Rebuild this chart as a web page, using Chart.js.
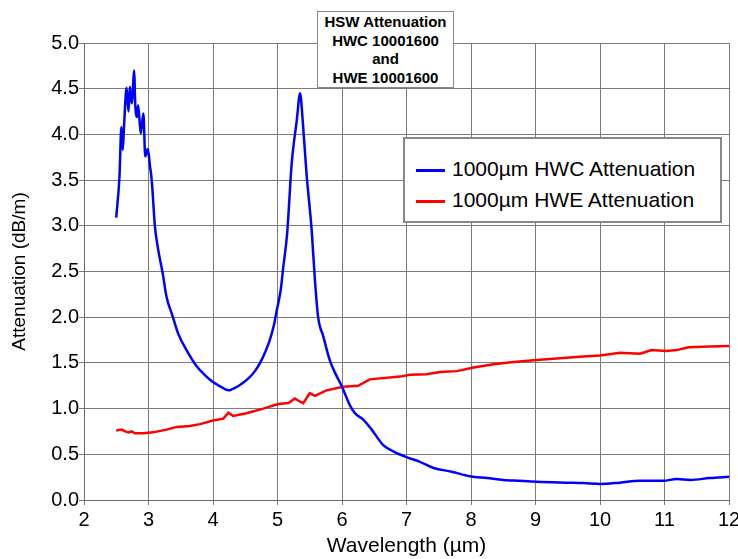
<!DOCTYPE html>
<html>
<head>
<meta charset="utf-8">
<script src="https://cdn.jsdelivr.net/npm/chart.js@4"></script>
<style>
  body { margin: 0; background: #fff; font-family: "Liberation Sans", Arial, sans-serif; }
  #wrap { position: relative; width: 738px; height: 559px; }
  #titleBox {
    position: absolute; left: 317px; top: 11px; width: 135px; height: 74px;
    background: #fff; border: 1px solid #8a8a8a;
    font: bold 15px "Liberation Sans", Arial, sans-serif; line-height: 18.5px;
    text-align: center; padding-top: 1px;
  }
  #legendBox {
    position: absolute; left: 403px; top: 137px; width: 315px; height: 82px;
    background: #fff; border: 2px solid #8a8a8a;
    font: 21px "Liberation Sans", Arial, sans-serif;
  }
  .row { position: absolute; left: 11px; height: 31px; line-height: 31px; white-space: nowrap; }
  .swatch { display: inline-block; width: 29px; height: 3px; vertical-align: middle; margin-right: 7px; }
</style>
</head>
<body>
<div id="wrap">
  <canvas id="attChart" width="738" height="559"></canvas>
  <div id="titleBox">HSW Attenuation<br>HWC 10001600<br>and<br>HWE 10001600</div>
  <div id="legendBox">
    <div class="row" style="top:14px"><span class="swatch" style="background:#0000ff"></span>1000µm HWC Attenuation</div>
    <div class="row" style="top:45px"><span class="swatch" style="background:#ff0000"></span>1000µm HWE Attenuation</div>
  </div>
</div>
<script>
let hwcWave = [2.50, 2.55, 2.58, 2.60, 2.62, 2.66, 2.69, 2.71, 2.74, 2.78,
    2.79, 2.82, 2.84, 2.88, 2.92, 2.95, 2.99, 3.02, 3.05, 3.10,
    3.15, 3.22, 3.28, 3.37, 3.46, 3.59, 3.75, 3.87, 4.00, 4.12,
    4.24, 4.29, 4.40, 4.55, 4.65, 4.73, 4.81, 4.88, 4.94, 4.99,
    5.05, 5.09, 5.15, 5.22, 5.30, 5.35, 5.39, 5.45, 5.53, 5.58,
    5.63, 5.71, 5.81, 5.90, 6.00, 6.12, 6.20, 6.33, 6.46, 6.64,
    6.80, 7.00, 7.20, 7.42, 7.70, 7.98, 8.25, 8.50, 8.75, 9.02,
    9.48, 9.75, 10.00, 10.31, 10.62, 10.98, 11.19, 11.40, 11.70, 12.00];
let hwcAtt = [3.09, 3.54, 4.08, 3.83, 4.08, 4.51, 4.25, 4.52, 4.34, 4.70,
    4.41, 4.19, 4.32, 4.01, 4.23, 3.76, 3.84, 3.67, 3.50, 2.99,
    2.74, 2.48, 2.22, 2.02, 1.82, 1.64, 1.46, 1.37, 1.29, 1.24,
    1.20, 1.21, 1.25, 1.33, 1.41, 1.50, 1.62, 1.75, 1.90, 2.08,
    2.30, 2.55, 2.92, 3.68, 4.16, 4.45, 4.16, 3.57, 2.95, 2.41,
    2.00, 1.79, 1.53, 1.38, 1.24, 1.04, 0.95, 0.88, 0.77, 0.60,
    0.53, 0.47, 0.42, 0.35, 0.31, 0.26, 0.24, 0.22, 0.21, 0.20,
    0.19, 0.185, 0.175, 0.19, 0.21, 0.21, 0.23, 0.22, 0.24, 0.255];

let hweWave = [2.50, 2.58, 2.64, 2.69, 2.74, 2.79, 2.92, 3.07, 3.28, 3.44,
    3.64, 3.80, 4.00, 4.16, 4.24, 4.31, 4.52, 4.78, 5.01, 5.17,
    5.27, 5.35, 5.40, 5.50, 5.58, 5.76, 6.02, 6.25, 6.43, 6.90,
    7.05, 7.31, 7.52, 7.78, 8.04, 8.35, 8.66, 8.97, 9.38, 9.74,
    10.00, 10.31, 10.62, 10.80, 11.03, 11.19, 11.37, 11.70, 12.00];
let hweAtt = [0.76, 0.77, 0.75, 0.74, 0.75, 0.73, 0.73, 0.74, 0.77, 0.80,
    0.81, 0.83, 0.87, 0.89, 0.955, 0.92, 0.95, 1.00, 1.05, 1.06,
    1.11, 1.075, 1.06, 1.17, 1.14, 1.20, 1.24, 1.25, 1.32, 1.35,
    1.37, 1.375, 1.40, 1.41, 1.45, 1.485, 1.51, 1.53, 1.55, 1.57,
    1.58, 1.61, 1.60, 1.64, 1.63, 1.64, 1.67, 1.68, 1.685];

let xTicks = [2, 3, 4, 5, 6, 7, 8, 9, 10, 11, 12];
let yTicks = [0, 0.5, 1, 1.5, 2, 2.5, 3, 3.5, 4, 4.5, 5];

let toPoints = function (xs, ys) {
    return xs.map((x, i) => ({x: x, y: ys[i]}));
};

let gridColor = '#7c7c7c';
let tickFont = {family: "'Liberation Sans', Arial, sans-serif", size: 20};

let ctx = document.getElementById('attChart').getContext('2d');

window.attChart = new Chart(ctx, {
    type: 'line',
    data: {
        datasets: [{
            label: '1000µm HWC Attenuation',
            data: toPoints(hwcWave, hwcAtt),
            borderColor: '#0000ff',
            borderWidth: 2.5,
            pointRadius: 0,
            cubicInterpolationMode: 'monotone',
            fill: false
        }, {
            label: '1000µm HWE Attenuation',
            data: toPoints(hweWave, hweAtt),
            borderColor: '#ff0000',
            borderWidth: 2.5,
            pointRadius: 0,
            fill: false
        }]
    },
    options: {
        responsive: false,
        devicePixelRatio: 1,
        animation: false,
        layout: {padding: {left: 0, top: 43, right: 9, bottom: 0}},
        plugins: {
            legend: {display: false},
            tooltip: {enabled: false}
        },
        scales: {
            x: {
                type: 'linear',
                min: 2,
                max: 12,
                afterBuildTicks: function (scale) {
                    scale.ticks = xTicks.map(v => ({value: v}));
                },
                afterFit: function (scale) {
                    scale.height = 59;
                    scale.paddingLeft = 0;
                    scale.paddingRight = 0;
                },
                ticks: {color: '#000', font: tickFont, padding: 3, maxRotation: 0},
                grid: {color: gridColor, tickLength: 5},
                border: {color: '#6a6a6a'},
                title: {
                    display: true,
                    text: 'Wavelength (µm)',
                    color: '#000',
                    font: {family: "'Liberation Sans', Arial, sans-serif", size: 21},
                    padding: {top: 0, bottom: 0}
                }
            },
            y: {
                min: 0,
                max: 5,
                afterBuildTicks: function (scale) {
                    scale.ticks = yTicks.map(v => ({value: v}));
                },
                afterFit: function (scale) {
                    scale.width = 84;
                },
                ticks: {
                    color: '#000',
                    font: tickFont,
                    padding: 0,
                    callback: v => v.toFixed(1)
                },
                grid: {color: gridColor, tickLength: 5},
                border: {color: '#6a6a6a'},
                title: {
                    display: true,
                    text: 'Attenuation (dB/m)',
                    color: '#000',
                    font: {family: "'Liberation Sans', Arial, sans-serif", size: 19},
                    padding: {top: 8, bottom: 0}
                }
            }
        }
    }
});
</script>
</body>
</html>
